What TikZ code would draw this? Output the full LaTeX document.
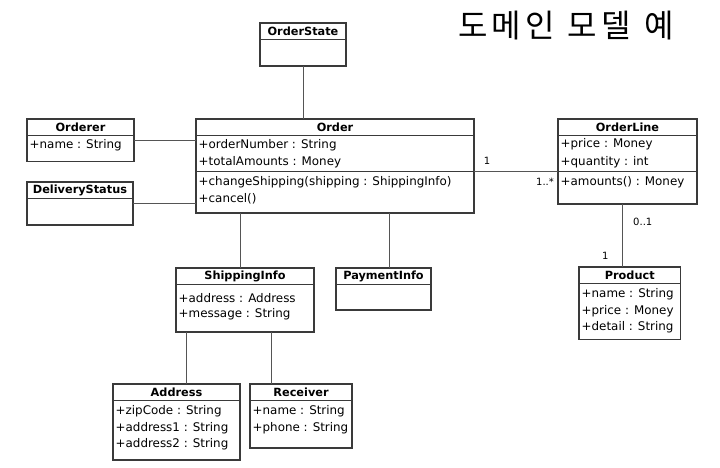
\documentclass[tikz,border=0pt]{standalone}
\usepackage{fontspec}
\setmainfont{DejaVu Sans}
\newfontfamily\krfont{Noto Sans CJK KR}
\usepackage{xcolor}
\definecolor{umlline}{HTML}{3A3A3A}
\definecolor{umllink}{HTML}{555555}

\tikzset{
  classbox/.style={draw=umlline,line width=1.1pt,fill=white,inner sep=0pt,outer sep=0pt,anchor=north west},
  sepline/.style={draw=umlline,line width=0.9pt},
  classname/.style={font=\fontsize{11.3}{13}\selectfont\bfseries,inner sep=0pt},
  member/.style={font=\fontsize{11.9}{14}\selectfont,anchor=west,inner sep=0pt},
  link/.style={draw=umllink,line width=0.9pt},
  mult/.style={font=\fontsize{10}{11}\selectfont,inner sep=0pt}
}

% class box: name, x, y, width, height, title
\newcommand{\umlclass}[6]{%
  \node[classbox,minimum width=#4pt,minimum height=#5pt] (#1) at (#2,#3) {};
  \node[classname] at ([yshift=-8.5pt]#1.north) {#6};
  \draw[sepline] ([yshift=-16.5pt]#1.north west) -- ([yshift=-16.5pt]#1.north east);
}
% member row: class, offset from top, text
\newcommand{\umlrow}[3]{%
  \node[member] at ([xshift=2.5pt,yshift=-#2pt]#1.north west) {#3};
}

\begin{document}
\begin{tikzpicture}[x=1pt,y=-1pt]
  \useasboundingbox[fill=white] (0,0) rectangle (720,467);

  %title
  \node (title) at (566,26) {\krfont\fontsize{32}{36}\selectfont
    도\hspace{4pt}메\hspace{4pt}인\hspace{6pt} 모\hspace{4pt}델\hspace{6pt} 예};

  %classes
  \umlclass{orderstate}{260}{23}{86}{43}{OrderState}
  \umlclass{orderer}{27}{119}{107}{42.5}{Orderer}
  \umlrow{orderer}{26.5}{+name : String}
  \umlclass{order}{196}{119}{278}{94}{Order}
  \umlrow{order}{26.5}{+orderNumber : String}
  \umlrow{order}{43}{+totalAmounts : Money}
  \draw[sepline] ([yshift=-52.5pt]order.north west) -- ([yshift=-52.5pt]order.north east);
  \umlrow{order}{63}{+changeShipping(shipping : ShippingInfo)}
  \umlrow{order}{79.5}{+cancel()}
  \umlclass{deliverystatus}{27}{182}{106}{43}{DeliveryStatus}
  \umlclass{orderline}{558}{119}{139}{85}{OrderLine}
  \umlrow{orderline}{25.5}{+price : Money}
  \umlrow{orderline}{43}{+quantity : int}
  \draw[sepline] ([yshift=-52pt]orderline.north west) -- ([yshift=-52pt]orderline.north east);
  \umlrow{orderline}{63}{+amounts() : Money}
  \umlclass{product}{579}{267}{101.5}{72.5}{Product}
  \umlrow{product}{27.5}{+name : String}
  \umlrow{product}{44}{+price : Money}
  \umlrow{product}{60}{+detail : String}
  \umlclass{shippinginfo}{176}{268}{138}{64}{ShippingInfo}
  \umlrow{shippinginfo}{30}{+address : Address}
  \umlrow{shippinginfo}{46.5}{+message : String}
  \umlclass{paymentinfo}{336}{268}{95}{42}{PaymentInfo}
  \umlclass{address}{113}{384}{127}{76}{Address}
  \umlrow{address}{27.5}{+zipCode : String}
  \umlrow{address}{44}{+address1 : String}
  \umlrow{address}{60}{+address2 : String}
  \umlclass{receiver}{250}{384}{102}{64}{Receiver}
  \umlrow{receiver}{27.5}{+name : String}
  \umlrow{receiver}{44}{+phone : String}

  %links
  \draw[link] (orderstate.south) -- (orderstate.south |- order.north);
  \draw[link] (orderer.east) -- (orderer.east -| order.west);
  \draw[link] (deliverystatus.east) -- (deliverystatus.east -| order.west);
  \coordinate (lineend) at ([yshift=-52.5pt]order.north east);
  \draw[link] (lineend) -- (lineend -| orderline.west);
  \node[mult] at ([xshift=13pt,yshift=11pt]lineend) {1};
  \node[mult] at ([xshift=-13pt,yshift=-10pt]lineend -| orderline.west) {1..*};
  \draw[link] ([xshift=-5pt]shippinginfo.north) -- ([xshift=-5pt]shippinginfo.north |- order.south);
  \draw[link] ([xshift=5.5pt]paymentinfo.north) -- ([xshift=5.5pt]paymentinfo.north |- order.south);
  \coordinate (productend) at ([xshift=-7.5pt]product.north);
  \draw[link] (productend) -- (productend |- orderline.south);
  \node[mult] at ([xshift=20.5pt,yshift=-17.5pt]productend |- orderline.south) {0..1};
  \node[mult] at ([xshift=-17pt,yshift=11.5pt]productend) {1};
  \draw[link] ([xshift=10.5pt]shippinginfo.south west) -- ([xshift=10.5pt]shippinginfo.south west |- address.north);
  \draw[link] ([xshift=-42.5pt]shippinginfo.south east) -- ([xshift=-42.5pt]shippinginfo.south east |- receiver.north);
\end{tikzpicture}
\end{document}
